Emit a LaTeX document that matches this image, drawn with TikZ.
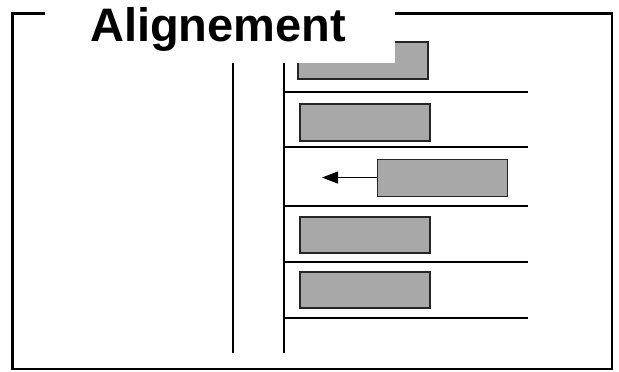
\documentclass[tikz,border=0pt]{standalone}
\usepackage{fontspec}
\setmainfont{Liberation Sans}
\usetikzlibrary{arrows.meta}
\definecolor{boxgrey}{RGB}{168,168,168}
\tikzset{
  greybox/.style={draw=black!85, line width=1.1pt, fill=boxgrey},
  frameline/.style={line width=2.6pt},
  rowline/.style={line width=1.4pt},
}
\begin{document}
\begin{tikzpicture}[x=1pt,y=-1pt]
\useasboundingbox (0,0) rectangle (619,372);
% frame
\draw[frameline] (45,13.5) -- (12.5,13.5) -- (12.5,369) -- (612,369) -- (612,13.5) -- (395,13.5);
% vertical lines
\draw[rowline] (233,40) -- (233,353);
\draw[rowline] (284,40) -- (284,353);
% row lines
\foreach \yy in {92,147,206,262,318} \draw[rowline] (284,\yy) -- (528,\yy);
% boxes
\draw[greybox] (298,42) rectangle (428,79);
\draw[greybox] (300,104) rectangle (430,141);
\node[greybox, inner sep=0pt, minimum width=130pt, minimum height=37pt, anchor=north west] (b3) at (377,158.5) {};
\draw[greybox] (300,217) rectangle (430,253);
\draw[greybox] (300,272) rectangle (430,308);
\coordinate (tip) at (322,177);
\draw[line width=1pt, -{Triangle[length=16pt,width=12pt]}] (b3.west) -- (b3.west -| tip);
% title mask
\fill[white] (46,0) rectangle (394.5,63);
\node[anchor=base west, inner sep=0pt] (title) at (90,41) {\fontsize{47}{47}\selectfont\bfseries Alignement};
\end{tikzpicture}
\end{document}
